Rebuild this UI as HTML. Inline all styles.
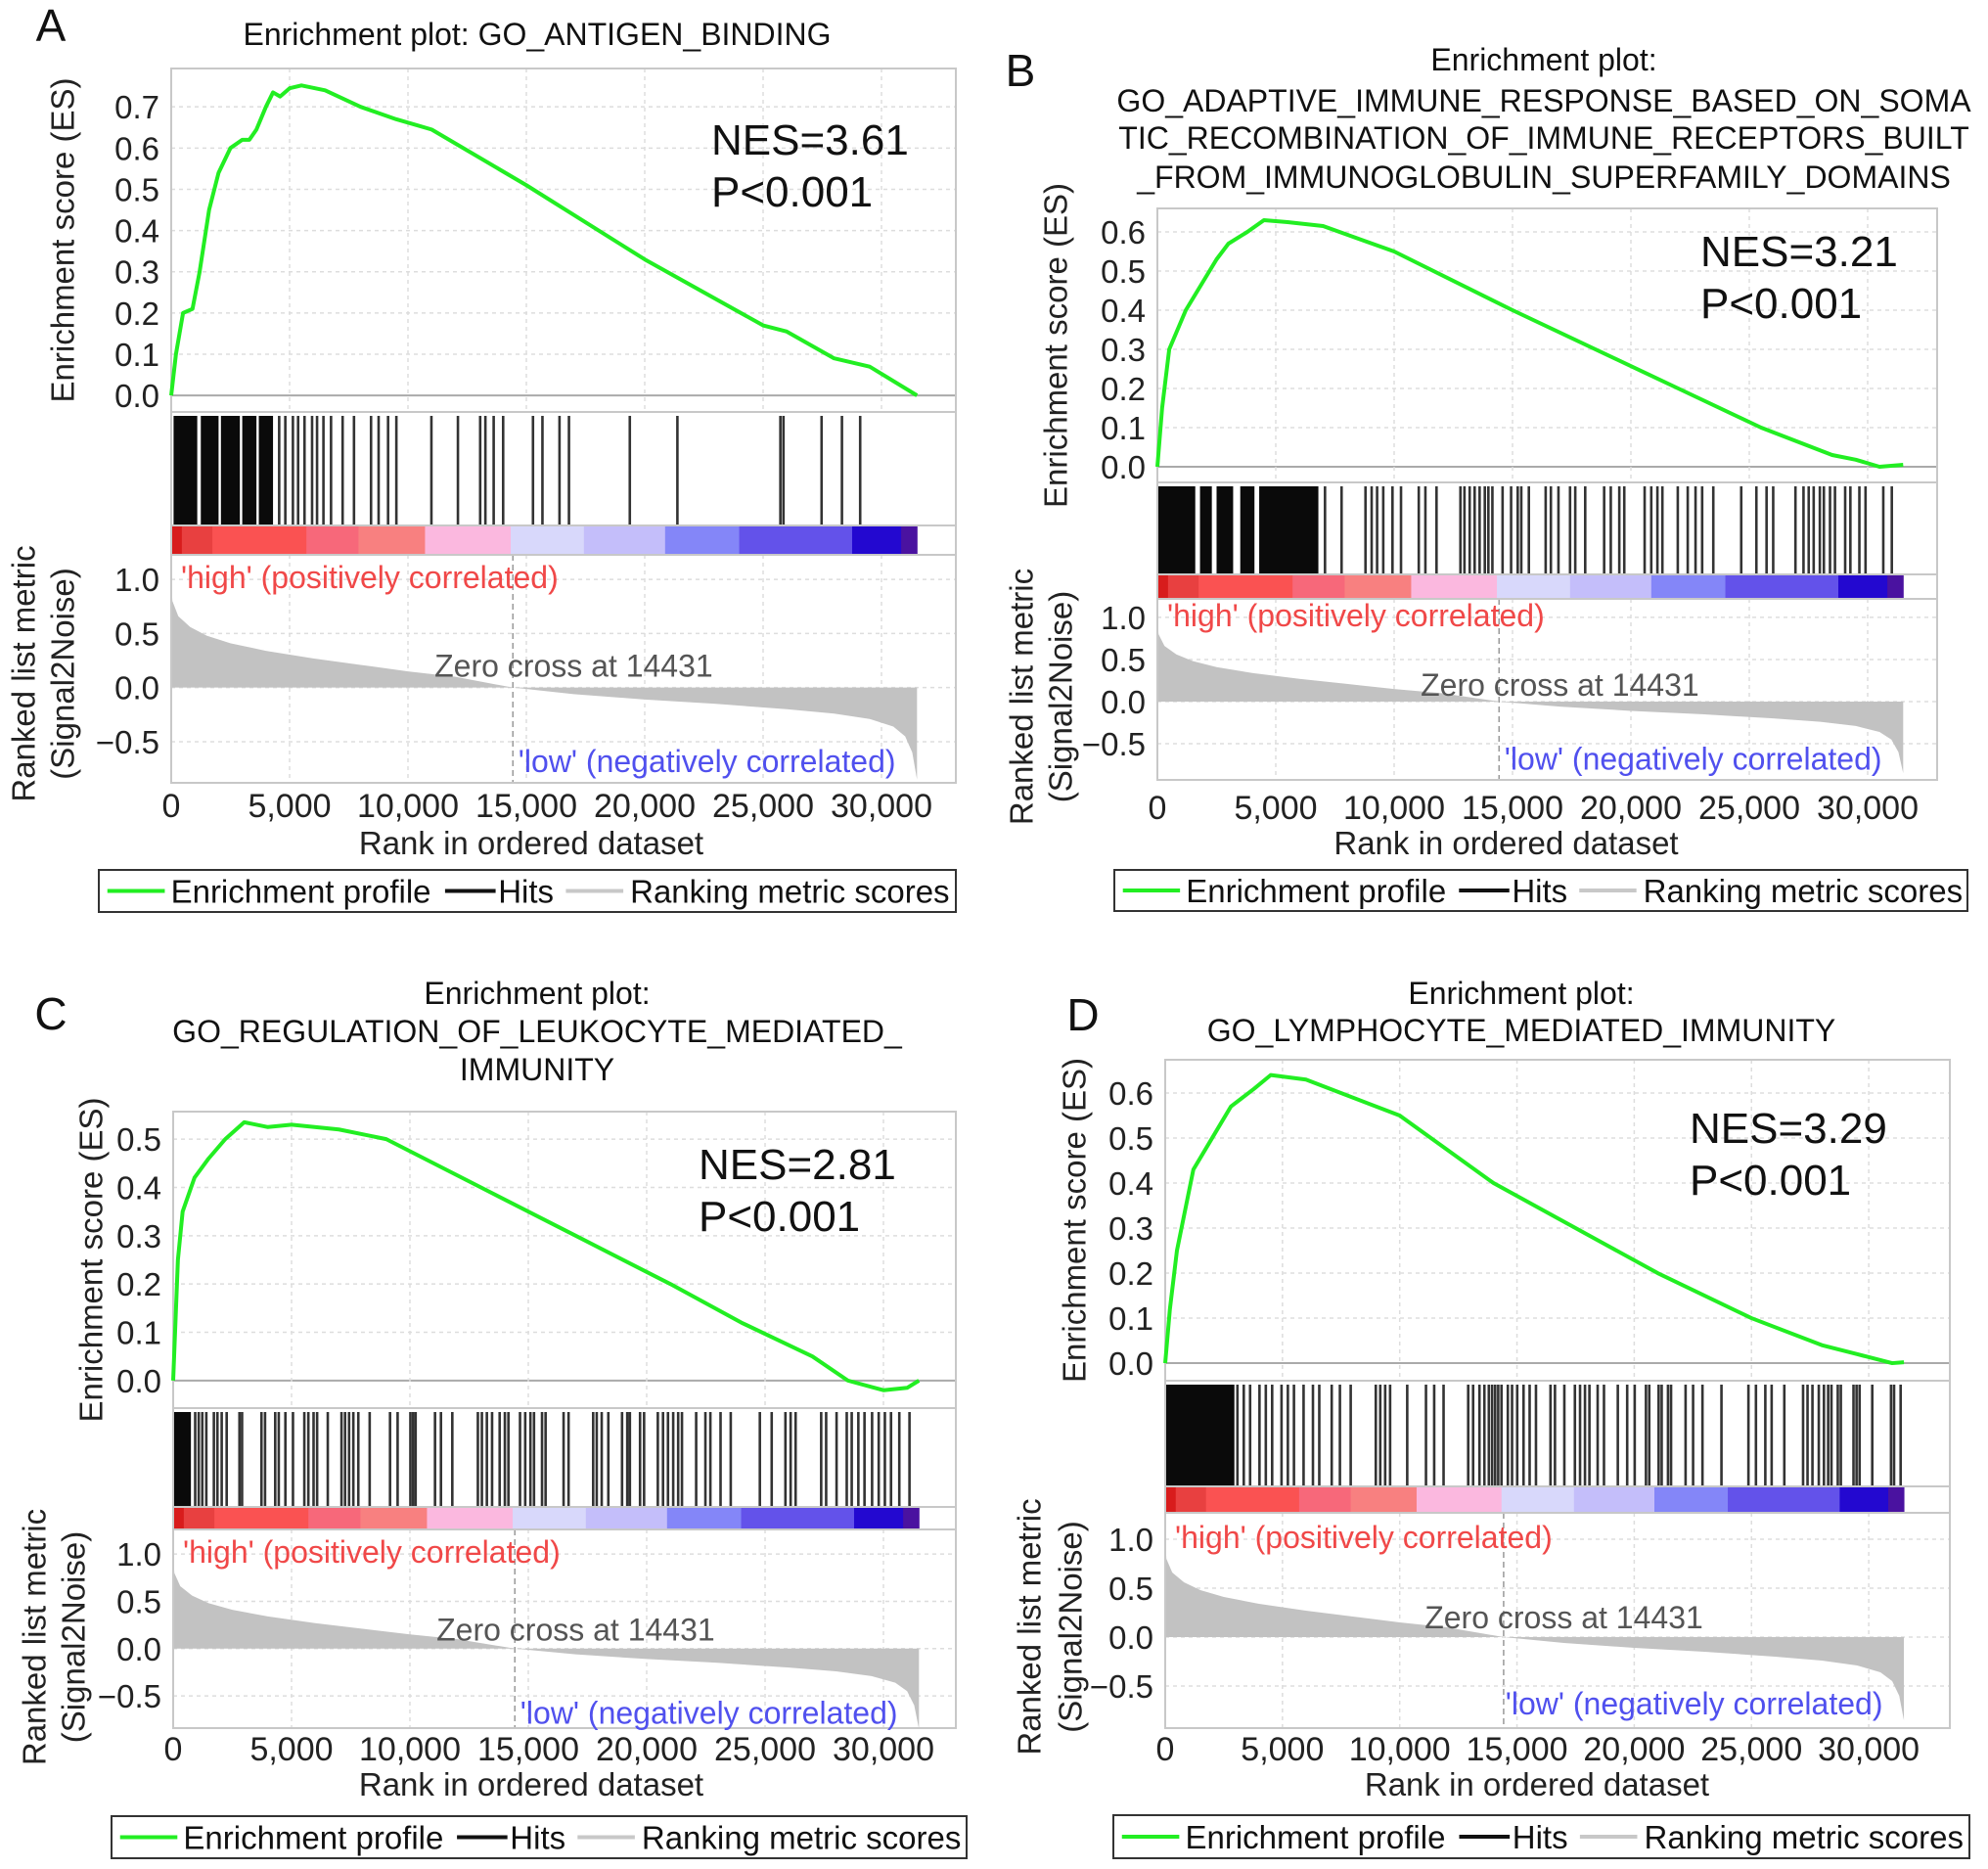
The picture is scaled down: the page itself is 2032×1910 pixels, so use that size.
<!DOCTYPE html>
<html><head><meta charset="utf-8">
<style>
html,body{margin:0;padding:0;background:#fff;}
svg{display:block;font-family:"Liberation Sans",Arial,sans-serif;}
</style></head>
<body>
<svg id="fig" width="2032" height="1910" viewBox="0 0 2032 1910" xmlns="http://www.w3.org/2000/svg"></svg>
<script>
// ---------- shared data ----------
const xTicks = [0, 5, 10, 15, 20, 25, 30];               // thousands of ranks
const xTickLabels = ["0", "5,000", "10,000", "15,000", "20,000", "25,000", "30,000"];
const rankTicks = [1.0, 0.5, 0.0, -0.5];
const rankTickLabels = ["1.0", "0.5", "0.0", "\u22120.5"];
const metricRank = [0, 0.05, 0.3, 0.8, 1.5, 2.5, 4, 6, 8, 10, 12, 14.43, 17, 20, 23, 26, 28, 29.5, 30.5, 31.0, 31.3, 31.5];
const metricVal  = [1.0, 0.8, 0.66, 0.56, 0.48, 0.41, 0.34, 0.27, 0.21, 0.15, 0.1, 0, -0.06, -0.11, -0.15, -0.2, -0.24, -0.29, -0.36, -0.45, -0.6, -0.85];
const zeroCross = 14.431;
const colorBounds = [0, 0.45, 1.74, 5.71, 7.91, 10.72, 14.34, 17.43, 20.86, 23.99, 28.76, 30.83, 31.5];
const colorFills = ["#d81c1c", "#e84040", "#fa5252", "#f7687a", "#f88080", "#fbb8df", "#d8d8fb", "#c4befa", "#8486f8", "#6352ea", "#2308d0", "#4a12a0"];

// ---------- panel A ----------
const esRankA = [0, 0.2, 0.5, 0.9, 1.2, 1.6, 2.0, 2.5, 3.0, 3.3, 3.6, 4.0, 4.3, 4.6, 5.0, 5.5, 6.5, 8.0, 9.5, 11.0, 15.0, 20.0, 25.0, 26.0, 28.0, 29.5, 31.5];
const esValA  = [0, 0.1, 0.2, 0.21, 0.3, 0.45, 0.54, 0.6, 0.62, 0.62, 0.645, 0.7, 0.735, 0.725, 0.745, 0.752, 0.74, 0.70, 0.67, 0.645, 0.51, 0.33, 0.17, 0.155, 0.09, 0.07, 0];
const hitBlocksA = [[0.1, 1.1], [1.25, 2.0], [2.1, 2.9], [3.0, 3.6], [3.7, 4.3]];
const hitsA = [4.56, 4.82, 5.14, 5.36, 5.63, 5.95, 6.16, 6.43, 6.75, 7.24, 7.72, 8.44, 8.76, 9.16, 9.51, 10.99, 12.11, 13.05, 13.27, 13.62, 14.02, 15.28, 15.68, 16.4, 16.8, 19.37, 21.38, 25.73, 25.86, 27.47, 28.33, 29.1];
// ---------- panel B ----------
const esRankB = [0, 0.2, 0.5, 1.2, 2.0, 2.5, 3.0, 3.8, 4.5, 5.5, 7.0, 10.0, 15.0, 22.0, 25.5, 28.5, 29.5, 30.5, 31.5];
const esValB  = [0, 0.15, 0.3, 0.4, 0.48, 0.53, 0.57, 0.6, 0.63, 0.625, 0.615, 0.55, 0.4, 0.2, 0.1, 0.03, 0.018, 0.0, 0.005];
const hitBlocksB = [[0, 1.6], [1.8, 2.3], [2.5, 3.2], [3.5, 4.1], [4.3, 6.8]];
const hitsB = [7.08, 7.78, 8.79, 9.05, 9.28, 9.54, 9.93, 10.29, 11.04, 11.32, 11.79, 12.8, 12.97, 13.19, 13.4, 13.61, 13.83, 13.98, 14.15, 14.58, 14.94, 15.22, 15.37, 15.69, 16.4, 16.62, 16.94, 17.43, 17.65, 18.07, 18.87, 19.15, 19.51, 19.72, 20.58, 20.86, 21.12, 21.33, 21.98, 22.4, 22.73, 23.01, 23.48, 24.66, 25.3, 25.73, 26.01, 26.95, 27.29, 27.51, 27.72, 27.98, 28.15, 28.41, 28.62, 29.05, 29.27, 29.65, 29.91, 30.66, 31.02];
// ---------- panel C ----------
const esRankC = [0, 0.2, 0.4, 0.9, 1.5, 2.2, 3.0, 4.0, 5.0, 7.0, 9.0, 13.0, 17.0, 21.0, 24.0, 27.0, 28.5, 30.0, 31.0, 31.5];
const esValC  = [0, 0.25, 0.35, 0.42, 0.46, 0.5, 0.535, 0.525, 0.53, 0.52, 0.5, 0.4, 0.3, 0.2, 0.12, 0.05, 0.0, -0.02, -0.015, 0.0];
const hitBlocksC = [[0, 0.75]];
const hitsC = [0.93, 1.08, 1.23, 1.4, 1.72, 1.87, 2.05, 2.26, 2.8, 2.91, 3.73, 3.88, 4.31, 4.46, 4.74, 5.06, 5.54, 5.71, 5.93, 6.08, 6.53, 7.11, 7.26, 7.43, 7.61, 7.82, 8.3, 9.16, 9.48, 10.02, 10.13, 10.24, 11.06, 11.31, 11.79, 12.87, 13.04, 13.25, 13.47, 13.79, 14.01, 14.16, 14.65, 14.87, 15.09, 15.24, 15.58, 15.73, 16.49, 16.7, 17.74, 17.89, 18.1, 18.38, 18.96, 19.18, 19.29, 19.72, 19.89, 20.47, 20.69, 20.9, 21.12, 21.33, 21.49, 22.09, 22.48, 22.69, 23.12, 23.55, 24.78, 25.28, 25.86, 26.08, 26.29, 27.37, 27.58, 28.02, 28.45, 28.66, 28.94, 29.2, 29.52, 29.8, 30.06, 30.32, 30.67, 31.1];
// ---------- panel D ----------
const esRankD = [0, 0.2, 0.5, 1.2, 2.0, 2.8, 3.8, 4.5, 6.0, 10.0, 14.0, 21.0, 25.0, 28.0, 29.5, 31.0, 31.5];
const esValD  = [0, 0.12, 0.25, 0.43, 0.5, 0.57, 0.61, 0.64, 0.63, 0.55, 0.4, 0.2, 0.1, 0.04, 0.02, 0.0, 0.002];
const hitBlocksD = [[0, 2.95]];
const hitsD = [3.08, 3.35, 3.62, 4.02, 4.29, 4.56, 4.96, 5.23, 5.49, 5.9, 6.3, 6.57, 7.1, 7.45, 7.91, 8.98, 9.17, 9.38, 9.59, 10.32, 11.12, 11.47, 11.87, 12.92, 13.13, 13.4, 13.61, 13.8, 13.94, 14.07, 14.2, 14.34, 14.61, 14.79, 15.01, 15.28, 15.54, 15.81, 16.43, 16.62, 17.02, 17.47, 17.69, 17.9, 18.09, 18.44, 18.71, 19.3, 19.7, 20.02, 20.5, 20.64, 21.04, 21.17, 21.44, 21.57, 22.19, 22.51, 22.91, 23.72, 24.87, 25.19, 25.59, 25.86, 26.4, 27.2, 27.39, 27.6, 27.87, 28.09, 28.27, 28.41, 28.68, 28.81, 29.35, 29.48, 29.61, 30.15, 30.95, 31.08, 31.36];

const esTicksA = [0, 0.1, 0.2, 0.3, 0.4, 0.5, 0.6, 0.7];
const esTicksB = [0, 0.1, 0.2, 0.3, 0.4, 0.5, 0.6];
const esTicksC = [0, 0.1, 0.2, 0.3, 0.4, 0.5];
const esTicksD = [0, 0.1, 0.2, 0.3, 0.4, 0.5, 0.6];

const NS = "http://www.w3.org/2000/svg";
const svg = document.getElementById("fig");
function mk(parent, tag, attrs, text) {
  const e = document.createElementNS(NS, tag);
  for (const k in attrs) e.setAttribute(k, attrs[k]);
  if (text !== undefined) e.textContent = text;
  parent.appendChild(e);
  return e;
}

const panels = [
  {id: "a", letter: "A", lx: 52, ly: 42, L: 175, R: 977, xPerK: 24.2,
   esT: 70, esB: 421, esMin: -0.04, esMax: 0.793, hitsB: 537, cbB: 567, rkB: 800, rkMin: -0.88, rkMax: 1.227,
   esRank: esRankA, esVal: esValA, hits: hitsA, blocks: hitBlocksA, esTicks: esTicksA,
   title: ["Enrichment plot: GO_ANTIGEN_BINDING"], titleX: 549, titleY: [46],
   nes: "NES=3.61", nesX: 727, nesY: 158, esLabX: 67, rkLabX: [27, 67], tickY: 835, xTitleY: 873, xTitleDx: -33,
   leg: [101, 889, 977, 932]},
  {id: "b", letter: "B", lx: 1043, ly: 88, L: 1183, R: 1980, xPerK: 24.2,
   esT: 213, esB: 493, esMin: -0.04, esMax: 0.66, hitsB: 587, cbB: 612, rkB: 797, rkMin: -0.93, rkMax: 1.22,
   esRank: esRankB, esVal: esValB, hits: hitsB, blocks: hitBlocksB, esTicks: esTicksB,
   title: ["Enrichment plot:", "GO_ADAPTIVE_IMMUNE_RESPONSE_BASED_ON_SOMA", "TIC_RECOMBINATION_OF_IMMUNE_RECEPTORS_BUILT", "_FROM_IMMUNOGLOBULIN_SUPERFAMILY_DOMAINS"],
   titleX: 1578, titleY: [72, 114, 152, 192],
   nes: "NES=3.21", nesX: 1738, nesY: 272, esLabX: 1082, rkLabX: [1047, 1087], tickY: 837, xTitleY: 873, xTitleDx: -42,
   leg: [1139, 889, 2011, 931]},
  {id: "c", letter: "C", lx: 52, ly: 1052, L: 177, R: 977, xPerK: 24.2,
   esT: 1136, esB: 1439, esMin: -0.057, esMax: 0.557, hitsB: 1540, cbB: 1563, rkB: 1766, rkMin: -0.84, rkMax: 1.26,
   esRank: esRankC, esVal: esValC, hits: hitsC, blocks: hitBlocksC, esTicks: esTicksC,
   title: ["Enrichment plot:", "GO_REGULATION_OF_LEUKOCYTE_MEDIATED_", "IMMUNITY"], titleX: 549, titleY: [1026, 1065, 1104],
   nes: "NES=2.81", nesX: 714, nesY: 1205, esLabX: 96, rkLabX: [38, 78], tickY: 1799, xTitleY: 1835, xTitleDx: -34,
   leg: [114, 1856, 988, 1899]},
  {id: "d", letter: "D", lx: 1107, ly: 1053, L: 1191, R: 1993, xPerK: 23.97,
   esT: 1083, esB: 1411, esMin: -0.039, esMax: 0.674, hitsB: 1519, cbB: 1546, rkB: 1766, rkMin: -0.93, rkMax: 1.27,
   esRank: esRankD, esVal: esValD, hits: hitsD, blocks: hitBlocksD, esTicks: esTicksD,
   title: ["Enrichment plot:", "GO_LYMPHOCYTE_MEDIATED_IMMUNITY"], titleX: 1555, titleY: [1026, 1064],
   nes: "NES=3.29", nesX: 1727, nesY: 1168, esLabX: 1101, rkLabX: [1055, 1097], tickY: 1799, xTitleY: 1835, xTitleDx: -21,
   leg: [1138, 1855, 2013, 1899]}
];

panels.forEach(p => {
  const g = mk(svg, "g", {});
  
  
  const X = k => p.L + k * p.xPerK;
  const YE = v => p.esB - (v - p.esMin) / (p.esMax - p.esMin) * (p.esB - p.esT);
  const YR = v => p.rkB - (v - p.rkMin) / (p.rkMax - p.rkMin) * (p.rkB - p.cbB);

  const letter = mk(g, "text", {x: p.lx, y: p.ly, "font-size": 46, "text-anchor": "middle", fill: "#111"}, p.letter);
  
  
  p.title.forEach((t, i) => {
    const tt = mk(g, "text", {x: p.titleX, y: p.titleY[i], "font-size": 32, "text-anchor": "middle", fill: "#111"}, t);
    
    
  });

  // grids
  p.esTicks.forEach(v => {
    const gl = mk(g, "line", {x1: p.L, x2: p.R, y1: YE(v), y2: YE(v), stroke: v === 0 ? "#aaa" : "#ddd", "stroke-width": v === 0 ? 2 : 1.5, "stroke-dasharray": v === 0 ? "" : "4 4"});
    
    
    const tl = mk(g, "text", {x: p.L - 12, y: YE(v) + 12, "font-size": 33, "text-anchor": "end", fill: "#222"}, v.toFixed(1));
    
    
  });
  rankTicks.forEach((v, i) => {
    const gl = mk(g, "line", {x1: p.L, x2: p.R, y1: YR(v), y2: YR(v), stroke: "#ddd", "stroke-width": 1.5, "stroke-dasharray": "4 4"});
    
    
    const tl = mk(g, "text", {x: p.L - 12, y: YR(v) + 12, "font-size": 33, "text-anchor": "end", fill: "#222"}, rankTickLabels[i]);
    
    
  });
  xTicks.forEach((k, i) => {
    [[p.esT, p.esB], [p.cbB, p.rkB]].forEach(seg => {
      const vl = mk(g, "line", {x1: X(k), x2: X(k), y1: seg[0], y2: seg[1], stroke: "#ddd", "stroke-width": 1.5, "stroke-dasharray": "4 4"});
      
      
    });
    const tl = mk(g, "text", {x: X(k), y: p.tickY, "font-size": 34, "text-anchor": "middle", fill: "#222"}, xTickLabels[i]);
    
    
  });

  // ranked metric area
  let d = "M" + X(metricRank[0]) + "," + YR(0);
  metricRank.forEach((r, i) => { d += " L" + X(r) + "," + YR(metricVal[i]); });
  d += " L" + X(metricRank[metricRank.length - 1]) + "," + YR(0) + " Z";
  const area = mk(g, "path", {d: d, fill: "#c2c2c2", stroke: "none"});
  
  
  const zl = mk(g, "line", {x1: X(zeroCross), x2: X(zeroCross), y1: p.cbB, y2: p.rkB, stroke: "#999", "stroke-width": 1.5, "stroke-dasharray": "6 4"});
  
  

  // hits
  p.blocks.forEach(b => {
    const r = mk(g, "rect", {x: X(b[0]), y: p.esB + 4, width: X(b[1]) - X(b[0]), height: p.hitsB - p.esB - 4, fill: "#0a0a0a"});
    
    
  });
  p.hits.forEach(h => {
    const l = mk(g, "line", {x1: X(h), x2: X(h), y1: p.esB + 4, y2: p.hitsB, stroke: "#333", "stroke-width": 2.6});
    
    
  });

  // color bar
  colorFills.forEach((c, i) => {
    const r = mk(g, "rect", {x: X(colorBounds[i]), y: p.hitsB, width: X(colorBounds[i + 1]) - X(colorBounds[i]) + 0.5, height: p.cbB - p.hitsB, fill: c});
    
    
  });

  // frames
  [[p.esT, p.esB], [p.esB, p.hitsB], [p.hitsB, p.cbB], [p.cbB, p.rkB]].forEach(s => {
    const f = mk(g, "rect", {x: p.L, y: s[0], width: p.R - p.L, height: s[1] - s[0], fill: "none", stroke: "#c8c8c8", "stroke-width": 2});
    
    
  });

  // ES curve
  let pts = p.esRank.map((r, i) => X(r) + "," + YE(p.esVal[i])).join(" ");
  const curve = mk(g, "polyline", {points: pts, fill: "none", stroke: "#22ee22", "stroke-width": 4, "stroke-linejoin": "round"});
  
  

  // annotations
  const nes = mk(g, "text", {x: p.nesX, y: p.nesY, "font-size": 44, fill: "#111"}, p.nes);
  
  
  const pv = mk(g, "text", {x: p.nesX, y: p.nesY + 53, "font-size": 44, fill: "#111"}, "P<0.001");
  
  
  const hi = mk(g, "text", {x: p.L + 10, y: YR(1.02) + 11, "font-size": 32, fill: "#f04848"}, "'high' (positively correlated)");
  
  
  const zc = mk(g, "text", {x: X(17.0), y: YR(0.2) + 11, "font-size": 32, "text-anchor": "middle", fill: "#555"}, "Zero cross at 14431");
  
  
  const lo = mk(g, "text", {x: X(30.6), y: YR(-0.68) + 11, "font-size": 32, "text-anchor": "end", fill: "#5050ee"}, "'low' (negatively correlated)");
  
  

  // axis titles
  const esMid = (p.esT + p.esB) / 2;
  const et = mk(g, "text", {x: p.esLabX, y: esMid, "font-size": 33, "text-anchor": "middle", fill: "#222", transform: "rotate(-90 " + p.esLabX + " " + esMid + ")", "dominant-baseline": "middle"}, "Enrichment score (ES)");
  
  
  const rkMid = (p.hitsB + p.rkB) / 2 + 20;
  ["Ranked list metric", "(Signal2Noise)"].forEach((t, i) => {
    const rt = mk(g, "text", {x: p.rkLabX[i], y: rkMid, "font-size": 33, "text-anchor": "middle", fill: "#222", transform: "rotate(-90 " + p.rkLabX[i] + " " + rkMid + ")", "dominant-baseline": "middle"}, t);
    
    
  });
  const xt = mk(g, "text", {x: (p.L + p.R) / 2 + p.xTitleDx, y: p.xTitleY, "font-size": 33, "text-anchor": "middle", fill: "#222"}, "Rank in ordered dataset");
  
  

  // legend
  const [lx0, ly0, lx1, ly1] = p.leg;
  const lg = mk(g, "g", {});
  
  
  mk(lg, "rect", {x: lx0, y: ly0, width: lx1 - lx0, height: ly1 - ly0, fill: "#fff", stroke: "#333", "stroke-width": 2});
  const w = lx1 - lx0, cy = (ly0 + ly1) / 2;
  const items = [
    {c: "#22ee22", t: "Enrichment profile", a: 0.01, b: 0.077, tx: 0.084, n: "legend-entry-enrichment"},
    {c: "#111", t: "Hits", a: 0.404, b: 0.463, tx: 0.466, n: "legend-entry-hits"},
    {c: "#c8c8c8", t: "Ranking metric scores", a: 0.545, b: 0.612, tx: 0.62, n: "legend-entry-ranking"}
  ];
  items.forEach(it => {
    const ig = mk(lg, "g", {});
    
    
    mk(ig, "line", {x1: lx0 + it.a * w, x2: lx0 + it.b * w, y1: cy, y2: cy, stroke: it.c, "stroke-width": 4});
    mk(ig, "text", {x: lx0 + it.tx * w, y: cy + 12, "font-size": 33, fill: "#111"}, it.t);
  });
});
</script>
</body></html>
